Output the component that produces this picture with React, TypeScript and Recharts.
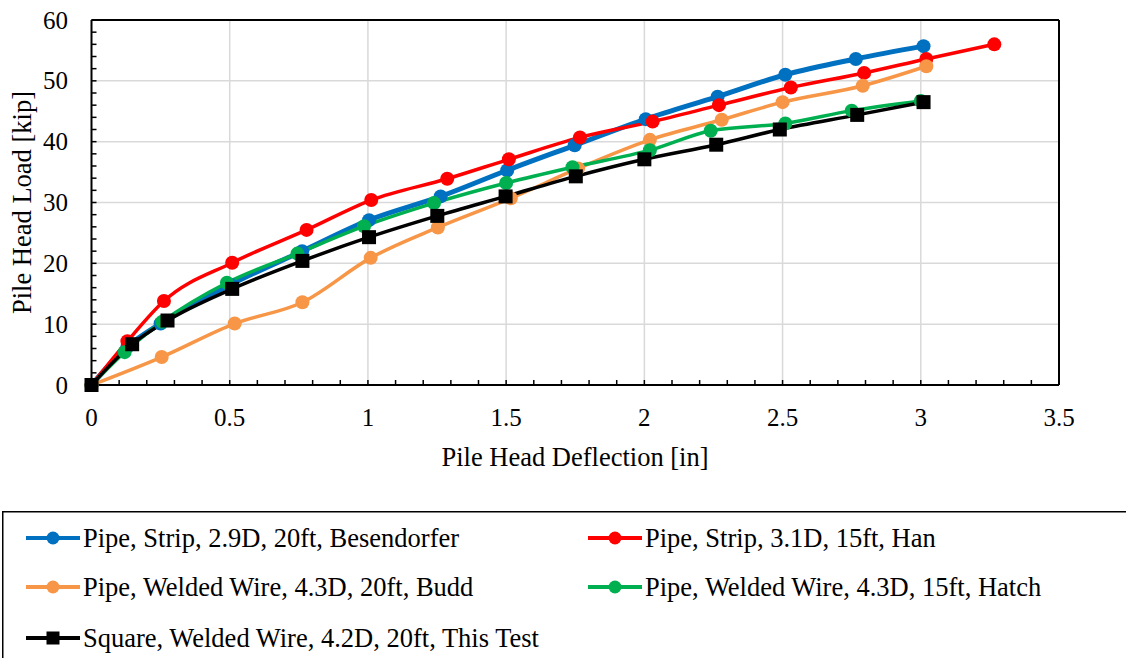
import React from 'react';
import { LineChart, Line, XAxis, YAxis, ReferenceLine, Label } from 'recharts';

const FONT = '"Liberation Serif", serif';

// Series: Pipe, Strip, 2.9D, 20ft, Besendorfer
const besendorferX = [0, 0.13, 0.25, 0.503, 0.762, 1.004, 1.263, 1.504, 1.748, 2.005, 2.265, 2.51, 2.765, 3.01];
const besendorferY = [0, 6.3, 10.1, 16.5, 22.0, 27.1, 31.0, 35.3, 39.4, 43.7, 47.4, 51.0, 53.6, 55.7];
// Series: Pipe, Strip, 3.1D, 15ft, Han
const hanX = [0, 0.13, 0.262, 0.509, 0.778, 1.012, 1.287, 1.51, 1.767, 2.03, 2.27, 2.53, 2.795, 3.02, 3.266];
const hanY = [0, 7.2, 13.8, 20.1, 25.5, 30.4, 33.9, 37.1, 40.7, 43.3, 46.0, 48.9, 51.3, 53.6, 56.0];
// Series: Pipe, Welded Wire, 4.3D, 20ft, Budd
const buddX = [0, 0.254, 0.518, 0.763, 1.01, 1.253, 1.517, 1.76, 2.02, 2.28, 2.5, 2.79, 3.02];
const buddY = [0, 4.6, 10.1, 13.6, 20.9, 25.9, 30.7, 35.6, 40.3, 43.6, 46.5, 49.2, 52.4];
// Series: Pipe, Welded Wire, 4.3D, 15ft, Hatch
const hatchX = [0, 0.12, 0.256, 0.49, 0.745, 0.986, 1.239, 1.5, 1.74, 2.02, 2.24, 2.51, 2.75, 3.0];
const hatchY = [0, 5.4, 10.4, 16.8, 21.6, 26.1, 29.9, 33.2, 35.8, 38.6, 41.8, 43.0, 45.1, 46.7];
// Series: Square, Welded Wire, 4.2D, 20ft, This Test
const thisTestX = [0, 0.147, 0.275, 0.509, 0.763, 1.004, 1.251, 1.498, 1.752, 2.0, 2.26, 2.49, 2.77, 3.01];
const thisTestY = [0, 6.7, 10.6, 15.8, 20.4, 24.3, 27.8, 31.0, 34.3, 37.1, 39.5, 42.0, 44.4, 46.5];

const xTicks = [0, 0.1, 0.2, 0.3, 0.4, 0.5, 0.6, 0.7, 0.8, 0.9, 1, 1.1, 1.2, 1.3, 1.4, 1.5, 1.6, 1.7, 1.8, 1.9, 2, 2.1, 2.2, 2.3, 2.4, 2.5, 2.6, 2.7, 2.8, 2.9, 3, 3.1, 3.2, 3.3, 3.4, 3.5];
const xLabels = ['0', '0.5', '1', '1.5', '2', '2.5', '3', '3.5'];
const xGrid = [0.5, 1, 1.5, 2, 2.5, 3];
const yTicks = [0, 2, 4, 6, 8, 10, 12, 14, 16, 18, 20, 22, 24, 26, 28, 30, 32, 34, 36, 38, 40, 42, 44, 46, 48, 50, 52, 54, 56, 58, 60];
const yLabels = ['0', '10', '20', '30', '40', '50', '60'];
const yGrid = [10, 20, 30, 40, 50];

const seriesNames = [
  'Pipe, Strip, 2.9D, 20ft, Besendorfer',
  'Pipe, Strip, 3.1D, 15ft, Han',
  'Pipe, Welded Wire, 4.3D, 20ft, Budd',
  'Pipe, Welded Wire, 4.3D, 15ft, Hatch',
  'Square, Welded Wire, 4.2D, 20ft, This Test',
];
const colors = ['#0070C0', '#FF0000', '#F79646', '#00B050', '#000000'];

const zip = (xs: number[], ys: number[]) => xs.map((x, i) => ({ x, y: ys[i] }));
const besendorferData = zip(besendorferX, besendorferY);
const hanData = zip(hanX, hanY);
const buddData = zip(buddX, buddY);
const hatchData = zip(hatchX, hatchY);
const thisTestData = zip(thisTestX, thisTestY);

const fmt = (v: number) => String(Math.round(v * 10) / 10);

const XTick = (props: any) => {
  const { x, y, payload } = props;
  const label = fmt(payload.value);
  const show = xLabels.includes(label);
  return (
    <g>
      <line x1={x} y1={y} x2={x} y2={y - 5} stroke="#000" strokeWidth={1.5} />
      {show && (
        <text x={x} y={y + 41} textAnchor="middle" fontSize={25} fontFamily={FONT} fill="#000">
          {label}
        </text>
      )}
    </g>
  );
};

const YTick = (props: any) => {
  const { x, y, payload } = props;
  const label = fmt(payload.value);
  const show = yLabels.includes(label);
  return (
    <g>
      <line x1={x} y1={y} x2={x + 5} y2={y} stroke="#000" strokeWidth={1.5} />
      {show && (
        <text x={x - 23.5} y={y + 8.5} textAnchor="end" fontSize={25} fontFamily={FONT} fill="#000">
          {label}
        </text>
      )}
    </g>
  );
};

const SquareDot = (props: any) => {
  const { cx, cy, index } = props;
  if (cx == null || cy == null) return <g key={index} />;
  return <rect key={index} x={cx - 7} y={cy - 7} width={14} height={14} fill="#000" />;
};

const circleDot = (c: string) => ({ r: 7, fill: c, stroke: c, strokeWidth: 0 });

const legendRows = [
  { name: seriesNames[0], color: colors[0], col: 0, row: 0, square: false },
  { name: seriesNames[1], color: colors[1], col: 1, row: 0, square: false },
  { name: seriesNames[2], color: colors[2], col: 0, row: 1, square: false },
  { name: seriesNames[3], color: colors[3], col: 1, row: 1, square: false },
  { name: seriesNames[4], color: colors[4], col: 0, row: 2, square: true },
];

const LegendBox = () => {
  const colX = [26, 588];
  const rowY = [27, 76, 127];
  return (
    <svg width={1126} height={147} style={{ position: 'absolute', left: 0, top: 511 }}>
      <rect x={2.75} y={0.75} width={1140} height={200} fill="#fff" stroke="#000" strokeWidth={1.5} />
      {legendRows.map((it, i) => {
        const x0 = colX[it.col];
        const cy = rowY[it.row];
        return (
          <g key={i}>
            <line x1={x0} y1={cy} x2={x0 + 54} y2={cy} stroke={it.color} strokeWidth={4} />
            {it.square ? (
              <rect x={x0 + 27 - 6.5} y={cy - 6.5} width={13} height={13} fill={it.color} />
            ) : (
              <circle cx={x0 + 27} cy={cy} r={6.5} fill={it.color} />
            )}
            <text x={x0 + 57} y={cy + 9} fontSize={26.5} fontFamily={FONT} fill="#000">
              {it.name}
            </text>
          </g>
        );
      })}
    </svg>
  );
};

export default function App() {
  return (
    <div style={{ position: 'absolute', left: 0, top: 0, width: 1126, height: 658, background: '#fff' }}>
      <LineChart
        width={1126}
        height={658}
        margin={{ top: 20, right: 67, bottom: 233, left: 0 }}
        style={{ position: 'absolute', left: 0, top: 0 }}
      >
        <XAxis
          type="number"
          dataKey="x"
          domain={[0, 3.5]}
          ticks={xTicks}
          interval={0}
          tickLine={false}
          tickSize={0}
          tickMargin={0}
          tick={<XTick />}
          axisLine={{ stroke: '#000', strokeWidth: 2 }}
          height={40}
        >
          <Label
            content={() => (
              <text x={575} y={466} textAnchor="middle" fontSize={26.5} fontFamily={FONT} fill="#000">
                Pile Head Deflection [in]
              </text>
            )}
          />
        </XAxis>
        <YAxis
          type="number"
          domain={[0, 60]}
          ticks={yTicks}
          interval={0}
          tickLine={false}
          tickSize={0}
          tickMargin={0}
          tick={<YTick />}
          axisLine={{ stroke: '#000', strokeWidth: 2 }}
          width={91.5}
        >
          <Label
            content={() => (
              <text
                x={22}
                y={202.5}
                transform="rotate(-90 22 202.5)"
                textAnchor="middle"
                dominantBaseline="central"
                fontSize={26.5}
                fontFamily={FONT}
                fill="#000"
              >
                Pile Head Load [kip]
              </text>
            )}
          />
        </YAxis>
        {xGrid.map((v) => (
          <ReferenceLine key={'gx' + v} x={v} stroke="#d9d9d9" strokeWidth={1.5} />
        ))}
        {yGrid.map((v) => (
          <ReferenceLine key={'gy' + v} y={v} stroke="#d9d9d9" strokeWidth={1.5} />
        ))}
        <ReferenceLine x={3.5} stroke="#000" strokeWidth={2} />
        <ReferenceLine y={60} stroke="#000" strokeWidth={2} />
        <Line
          data={besendorferData}
          dataKey="y"
          name={seriesNames[0]}
          type="monotone"
          stroke={colors[0]}
          strokeWidth={5}
          dot={circleDot(colors[0])}
          activeDot={false}
          isAnimationActive={false}
        />
        <Line
          data={hanData}
          dataKey="y"
          name={seriesNames[1]}
          type="monotone"
          stroke={colors[1]}
          strokeWidth={3.5}
          dot={circleDot(colors[1])}
          activeDot={false}
          isAnimationActive={false}
        />
        <Line
          data={buddData}
          dataKey="y"
          name={seriesNames[2]}
          type="monotone"
          stroke={colors[2]}
          strokeWidth={3.5}
          dot={circleDot(colors[2])}
          activeDot={false}
          isAnimationActive={false}
        />
        <Line
          data={hatchData}
          dataKey="y"
          name={seriesNames[3]}
          type="monotone"
          stroke={colors[3]}
          strokeWidth={3.5}
          dot={circleDot(colors[3])}
          activeDot={false}
          isAnimationActive={false}
        />
        <Line
          data={thisTestData}
          dataKey="y"
          name={seriesNames[4]}
          type="monotone"
          stroke={colors[4]}
          strokeWidth={3.5}
          dot={<SquareDot />}
          activeDot={false}
          isAnimationActive={false}
        />
      </LineChart>
      <LegendBox />
    </div>
  );
}
